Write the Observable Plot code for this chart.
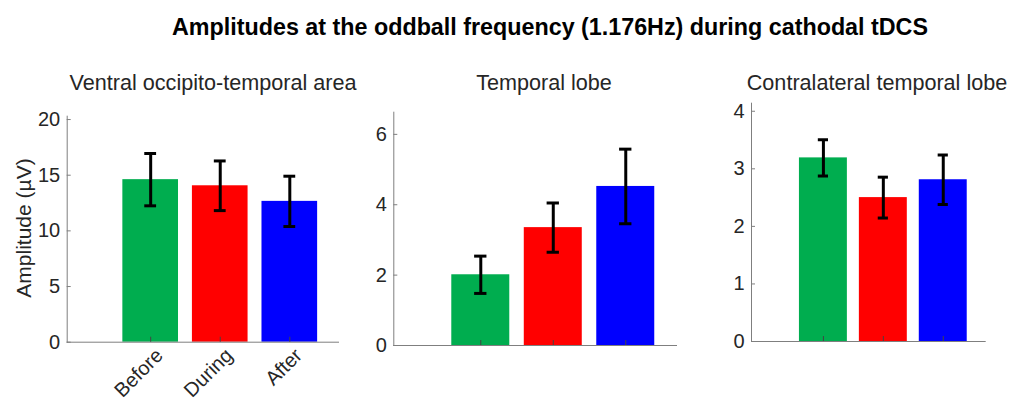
<!DOCTYPE html>
<html>
<head>
<meta charset="utf-8">
<script src="https://cdn.jsdelivr.net/npm/d3@7"></script>
<script src="https://cdn.jsdelivr.net/npm/@observablehq/plot@0.6"></script>
<style>
  body { margin: 0; background: #fff; }
  #chart { position: relative; width: 1011px; height: 401px; background: #fff; font-family: "Liberation Sans", Arial, Helvetica, sans-serif; color: #262626; overflow: hidden; }
  .lbl { position: absolute; white-space: nowrap; transform: translate(-50%, -50%); line-height: 1; }
  .panel { position: absolute; top: 60px; }
</style>
</head>
<body>
<div id="chart"></div>
<script>
// ---- data ----
const mainTitle = "Amplitudes at the oddball frequency (1.176Hz) during cathodal tDCS";
const yLabel = "Amplitude (µV)";
const conditions = ["Before", "During", "After"];
const conditionColors = ["#00ad4f", "#ff0000", "#0000ff"];
const regionTitles = ["Ventral occipito-temporal area", "Temporal lobe", "Contralateral temporal lobe"];

const ventralMean = [14.6, 14.05, 12.65];
const ventralErr = [2.35, 2.23, 2.26];
const temporalMean = [2.01, 3.35, 4.52];
const temporalErr = [0.53, 0.70, 1.06];
const contraMean = [3.19, 2.50, 2.81];
const contraErr = [0.315, 0.355, 0.43];

const ventralTicks = [0, 5, 10, 15, 20];
const temporalTicks = [0, 2, 4, 6];
const contraTicks = [0, 1, 2, 3, 4];

// ---- layout ----
const chart = document.getElementById("chart");
function addLabel(text, x, y, css) {
  const d = document.createElement("div");
  d.className = "lbl";
  d.textContent = text;
  d.style.left = x + "px";
  d.style.top = y + "px";
  Object.assign(d.style, css || {});
  chart.appendChild(d);
}
addLabel(mainTitle, 550, 28, {fontSize: "23.3px", fontWeight: "bold", color: "#000"});

const gray = "#7f7f7f";
function makePanel({mean, err, ticks, yMax, left, width, margins, showLabels}) {
  const data = conditions.map((c, k) => ({cond: c, i: k + 1, mean: mean[k], err: err[k]}));
  const plot = Plot.plot({
    width, height: 341,
    marginLeft: margins[0], marginRight: margins[1], marginTop: margins[2], marginBottom: margins[3],
    x: {domain: [-0.2, 3.7]},
    y: {domain: [0, yMax]},
    color: {domain: conditions, range: conditionColors},
    style: {fontSize: "20px", fontFamily: "'Liberation Sans', Arial, sans-serif", color: "#262626", background: "transparent", overflow: "visible"},
    marks: [
      Plot.rectY(data, {x1: d => d.i - 0.4, x2: d => d.i + 0.4, y: "mean", fill: "cond"}),
      Plot.ruleX(data, {x: "i", y1: d => d.mean - d.err, y2: d => d.mean + d.err, stroke: "#000", strokeWidth: 3}),
      Plot.ruleY(data, {y: d => d.mean + d.err, x1: d => d.i - 0.085, x2: d => d.i + 0.085, stroke: "#000", strokeWidth: 3}),
      Plot.ruleY(data, {y: d => d.mean - d.err, x1: d => d.i - 0.085, x2: d => d.i + 0.085, stroke: "#000", strokeWidth: 3}),
      Plot.frame({anchor: "left", stroke: gray}),
      Plot.frame({anchor: "bottom", stroke: gray}),
      Plot.axisY({ticks, tickSize: -4, tickFormat: () => "", stroke: gray, label: null}),
      Plot.axisY({ticks, tickSize: 0, tickPadding: 7, tickFormat: d => String(d), label: null, fill: "#262626"}),
      Plot.axisX({ticks: [1, 2, 3], tickSize: -5, tickFormat: () => "", stroke: "#444", label: null}),
      showLabels
        ? Plot.axisX({ticks: [1, 2, 3], tickSize: 0, tickPadding: 10, dx: 9, tickRotate: -45, tickFormat: i => conditions[i - 1], label: null, fill: "#262626"})
        : null
    ]
  });
  plot.classList.add("panel");
  plot.style.left = left + "px";
  chart.appendChild(plot);
}

makePanel({mean: ventralMean, err: ventralErr, ticks: ventralTicks, yMax: 20.3, left: 0, width: 360,
  margins: [66.7, 22, 55.7, 59.3], showLabels: true});
makePanel({mean: temporalMean, err: temporalErr, ticks: temporalTicks, yMax: 6.63, left: 360, width: 330,
  margins: [33.3, 14, 51.7, 56], showLabels: false});
makePanel({mean: contraMean, err: contraErr, ticks: contraTicks, yMax: 4.14, left: 690, width: 321,
  margins: [61, 26.3, 42.7, 60], showLabels: false});

addLabel(regionTitles[0], 213, 83, {fontSize: "21.6px"});
addLabel(regionTitles[1], 544, 83, {fontSize: "21.6px"});
addLabel(regionTitles[2], 877, 83, {fontSize: "21.6px"});
addLabel(yLabel, 23, 228, {fontSize: "21px", transform: "translate(-50%, -50%) rotate(-90deg)"});
</script>
</body>
</html>
